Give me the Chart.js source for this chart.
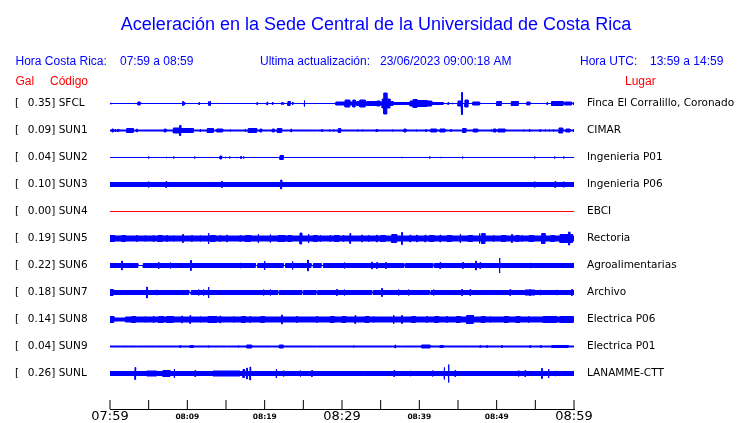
<!DOCTYPE html>
<html><head><meta charset="utf-8">
<script src="https://cdn.jsdelivr.net/npm/chart.js@4/dist/chart.umd.min.js"></script>
<style>html,body{margin:0;padding:0;background:#fff;overflow:hidden;}canvas{display:block;}</style>
</head><body>
<canvas id="c" width="740" height="423"></canvas>
<script>
// ---------- data ----------
const codes = ["SFCL","SUN1","SUN2","SUN3","SUN4","SUN5","SUN6","SUN7","SUN8","SUN9","SUNL"];
const galValues = [0.35,0.09,0.04,0.10,0.00,0.19,0.22,0.18,0.14,0.04,0.26];
const places = ["Finca El Corralillo, Coronado","CIMAR","Ingenieria P01","Ingenieria P06","EBCI","Rectoria","Agroalimentarias","Archivo","Electrica P06","Electrica P01","LANAMME-CTT"];
const timeTickLabels = ["07:59","","08:09","","08:19","","08:29","","08:39","","08:49","","08:59"];
const titleText = "Aceleración en la Sede Central de la Universidad de Costa Rica";
const horaCR = "07:59 a 08:59";
const horaUTC = "13:59 a 14:59";
const lastUpdate = "23/06/2023 09:00:18 AM";
// resting half-amplitude of each trace (display units)
const baseAmplitude = [0.5,1,0.5,2.5,0.5,3,2.5,2.5,3,1,2.5];
// events: [minute, amp] = short spike ; [fromMinute, toMinute, amp] = sustained motion
const evSFCL = [[0.1,1],[3.6,3.9,2],[9.4,2.5],[9.6,2],[11.5,1.5],[12.7,2.5],[12.9,2.5],[19.0,1.5],[20.3,2],[21.0,1.5],[22.2,1.5],[22.4,1.5],[23.0,23.3,2.5],[23.6,1.5],[25.1,3.5],
 [29.2,30.4,2],[30.4,31.0,4],[31.0,31.4,2],[31.4,31.7,4],[31.7,31.9,1.5],[31.9,32.3,2.5],[32.3,33.0,4],[33.0,33.2,2],[33.2,34.5,2.5],[34.5,34.9,3],[34.9,35.2,2],[35.2,35.4,5],[35.4,35.8,11],[35.8,36.2,5],[36.2,36.6,2.5],[36.6,38.8,1.5],[38.8,39.2,3],[39.2,39.7,4.5],[39.7,41.0,3.5],[41.0,41.6,3],[41.6,43.1,1.5],
 [43.7,1.5],[44.3,1],[45.0,45.4,3],[45.5,11.5],[45.9,46.3,4],[46.9,47.8,2],[50.0,50.6,2.5],[51.1,1],[51.9,52.8,2.5],[53.9,54.3,2],[56.5,1.5],[57.1,58.6,2.5],[58.8,59.7,2],[59.9,2]];
const evSUN1 = [[0.26,0.43,2],[0.65,2],[0.94,1.16,1.5],[2.16,3.01,2.5],[3.45,2],[4.31,1],[4.95,1],[5.6,1],[7.02,7.24,2],[8.19,9.0,3],[9.0,9.15,5.5],[9.15,10.77,2.5],[11.64,2],[12.58,13.36,2.5],[13.8,14.57,2],[15.52,1.5],[17.46,2],[17.88,18.97,2.5],[19.4,19.62,2],[20.47,1],[20.99,21.25,2],[21.63,22.2,2.5],[23.4,2],[26.73,1],[27.37,1.5],[27.8,1],[28.36,1.5],[28.87,1.5],[29.52,29.83,2.5],[31.98,1.5],[32.62,1.5],[33.53,1],[33.75,1],[34.4,34.62,1.5],[36.5,1.5],[38.02,38.28,2],[39.57,1.5],[40.82,1.5],[41.47,42.24,2],[42.67,43.32,2],[44.06,1.5],[44.48,1],[45.6,46.03,2.5],[46.98,47.55,2],[49.27,1.5],[49.57,49.91,2],[50.17,51.08,2],[53.44,1.5],[54.22,2],[55.6,1.5],[56.25,1.5],[56.77,1.5],[57.32,1.5],[58.06,58.54,3],[58.96,59.48,2],[59.9,2]];
const evSUN2 = [[4.95,1.5],[7.24,1],[7.54,1],[8.19,1.5],[10.9,1.5],[14.22,14.44,2],[14.87,1],[15.43,1.5],[16.38,1],[16.9,1.5],[17.24,1.5],[17.88,1],[21.98,22.41,2.5],[37.72,1],[41.29,1.5],[42.76,1],[45.55,1.5],[54.87,1.5],[55.51,1],[57.45,1.5],[58.62,1.5]];
const evSUN3 = [[4.95,3.5],[7.24,3.5],[13.49,3],[14.44,3.5],[22.07,22.2,5],[23.83,3],[32.11,3],[34.82,3],[54.87,3.5],[57.54,3.5],[57.97,3],[58.62,3.5],[59.39,3]];
const evSUN4 = [];
const evSUN5 = [[0,0.6,3.5],[1.5,2.0,3.5],[3.45,3.5],[4.53,3.5],[5.6,4],[6.2,6.8,3.5],[7.33,3.5],[8.19,3.5],[9.4,4.5],[10.56,3.5],[11.64,3.5],[12.71,6],[13.0,13.6,3.5],[14.22,3.5],[15.09,4],[16.81,3.5],[17.5,18.2,3.5],[19.14,5],[20.69,4.5],[21.72,22.63,3.5],[23.0,23.5,3.5],[24.57,24.79,6],[25.64,5],[26.3,26.8,3.5],[27.16,4],[28.45,4],[29.0,29.6,3.5],[30.17,4],[31.03,5.5],[32.55,4],[33.4,4],[34.49,4],[35.0,35.6,3.5],[36.43,37.07,4.5],[37.72,6.5],[38.79,4],[39.66,4],[40.73,4],[41.3,41.9,3.5],[42.67,4],[43.6,44.2,3.5],[45.26,5],[46.3,46.9,3.5],[47.75,5.5],[48.06,48.49,5.5],[49.57,4],[50.6,51.2,3.5],[51.94,4.5],[52.5,52.9,3.5],[53.24,3.5],[54.2,54.8,3.5],[55.82,56.25,5.5],[57.0,57.5,3.5],[58.19,59.3,4.5],[59.3,59.45,7],[59.45,59.8,4.5]];
const evSUN6 = [[1.51,5],[3.6,4.3,0.5],[6.25,4],[7.76,3.5],[10.43,5.5],[16.81,3],[18.8,19.1,0.5],[19.95,5],[22.4,22.7,0.5],[23.57,4.5],[25.56,6],[26.0,26.3,0.5],[27.3,27.6,0.5],[30.26,3.5],[33.4,3],[33.84,4],[34.49,3.5],[35.65,3.5],[38.0,38.2,0.5],[41.75,41.95,0.5],[42.67,3.5],[45.6,3.5],[47.29,5],[47.84,3.5],[50.34,8],[54.31,3],[56.68,3],[57.97,3]];
const evSUN7 = [[0,0.4,3.5],[4.75,6],[6.03,3],[10.2,10.5,0.5],[11.42,3.5],[12.06,3.5],[12.71,6],[19.82,3.5],[20.69,3.5],[21.7,21.9,0.5],[24.8,25.0,0.5],[26.65,26.85,0.5],[29.31,3.5],[30.26,3.5],[33.85,34.05,0.5],[35.13,4.5],[37.28,3.5],[38.57,3.5],[40.09,3],[41.3,41.5,0.5],[41.81,3.5],[45.48,3.5],[46.55,3.5],[49.14,3],[51.72,3.5],[53.66,54.2,3],[54.31,3.5],[54.45,54.95,3],[55.6,3],[57.76,3],[59.7,3.5]];
const evSUN8 = [[0,0.5,3.5],[0.5,2.0,2],[2.8,3.3,3.5],[4.53,3.5],[5.6,4],[6.3,6.9,3.5],[7.33,8.19,3.5],[9.27,4],[10.34,4.5],[11.64,3.5],[12.7,13.8,3.5],[14.22,4],[15.95,3.5],[17.0,17.5,3.5],[18.1,3.5],[19.5,20.0,3.5],[22.2,5],[24.14,3.5],[26.73,3.5],[28.5,29.0,3.5],[30.0,30.5,3.5],[31.68,4.5],[33.0,33.5,3.5],[34.05,3.5],[36.64,5],[37.72,4.5],[39.0,39.5,3.5],[40.95,3.5],[42.0,42.5,3.5],[43.54,3.5],[44.8,45.3,3.5],[46.12,46.98,4.5],[48.0,48.5,3.5],[49.14,3.5],[51.0,51.5,3.5],[52.5,53.0,3.5],[54.09,4],[56.0,57.76,3.5],[58.19,59.87,3.5]];
const evSUN9 = [[1.29,1],[2.37,1],[3.45,1],[4.75,6.04,1],[6.47,1],[7.76,1],[9.05,1.5],[10.34,10.77,1.5],[11.64,1],[12.71,1.5],[14.22,1],[15.09,1],[16.59,1.5],[17.68,18.32,2],[20.91,1],[21.89,22.41,2],[26.73,1],[27.8,1],[31.46,1.5],[32.97,1],[36.85,2],[37.72,1],[40.3,41.38,2],[42.67,43.1,1.5],[44.39,1],[46.55,1],[47.84,1.5],[48.71,1.5],[50.65,1.5],[51.5,1],[53.02,1],[54.31,1.5],[55.69,1.5],[57.11,59.26,1.5]];
const evSUNL = [[3.23,6.5],[4.75,6.04,3],[6.85,7.76,3.5],[8.28,5],[10.99,3.5],[13.32,16.81,3],[17.2,17.4,4.5],[17.68,6],[18.1,7],[21.47,5],[22.41,3.5],[24.57,3.5],[26.08,3.5],[32.76,3],[36.72,3.5],[38.79,3],[41.68,3.5],[43.19,6.5],[43.75,9.5],[44.61,3.5],[52.8,3.5],[53.66,3.5],[55.82,5.5],[56.68,5],[57.54,3],[58.19,3]];
const traceEvents = [evSFCL,evSUN1,evSUN2,evSUN3,evSUN4,evSUN5,evSUN6,evSUN7,evSUN8,evSUN9,evSUNL];

// ---------- layout / style constants ----------
const ROW = 27;            // spacing between traces (y units = px)
const SPAN_MIN = 60;       // minutes shown
const SPIKE_W = 0.08;      // width of a short spike (minutes)
const STROKE = 1;          // outline width of traces
const BLUE = '#0000ff', RED = '#ff0000';

function envelope(base, events) {
  const ev = events.map(e => e.length === 2 ? [e[0], e[0] + SPIKE_W, e[1]] : e)
                   .sort((a, b) => a[0] - b[0]);
  const pts = [[0, base]];
  for (const [t0, t1, a] of ev) pts.push([t0, base], [t0, a], [t1, a], [t1, base]);
  pts.push([SPAN_MIN, base]);
  // amplitudes are half the visible height; the outline adds STROKE/2 on each side
  return pts.map(([t, a]) => [t, Math.max(0, a - STROKE / 2)]);
}

const datasets = [];
codes.forEach((code, i) => {
  const env = envelope(baseAmplitude[i], traceEvents[i]);
  const col = galValues[i] === 0 ? RED : BLUE;
  const common = {borderColor: col, backgroundColor: col, borderWidth: STROKE, pointRadius: 0,
                  tension: 0, yAxisID: 'y', xAxisID: 'x', borderJoinStyle: 'miter'};
  datasets.push(Object.assign({label: code + ' +', data: env.map(([t, a]) => ({x: t, y: i * ROW - a})), fill: false}, common));
  datasets.push(Object.assign({label: code + ' -', data: env.map(([t, a]) => ({x: t, y: i * ROW + a})), fill: '-1'}, common));
});
// axis tick marks (pointing up into the plot)
const yTop = -ROW / 2, yBottom = (codes.length - 1) * ROW + 35.5;
datasets.push({label: 'ticks', data: timeTickLabels.map((_, k) => ({x: k * 5, y: yBottom - 4.5})),
  showLine: false, pointStyle: 'line', pointRotation: 90, pointRadius: 4.5, pointHoverRadius: 4.5,
  pointBorderColor: '#000', pointBorderWidth: 1, borderColor: '#000', clip: false, yAxisID: 'y', xAxisID: 'x'});

const headerPlugin = {
  id: 'header',
  afterDraw(chart) {
    const c = chart.ctx;
    c.save();
    c.textBaseline = 'alphabetic';
    c.fillStyle = BLUE;
    c.textAlign = 'center';
    c.font = '18px "Liberation Sans", Arial, sans-serif';
    c.fillText(titleText, 376, 30);
    c.textAlign = 'left';
    c.font = '12px "Liberation Sans", Arial, sans-serif';
    c.fillText('Hora Costa Rica:', 15.5, 65);
    c.fillText(horaCR, 120, 65);
    c.fillText('Ultima actualización:', 260, 65);
    c.fillText(lastUpdate, 380, 65);
    c.fillText('Hora UTC:', 580, 65);
    c.fillText(horaUTC, 650, 65);
    c.fillStyle = RED;
    c.fillText('Gal', 15.5, 85);
    c.fillText('Código', 50, 85);
    c.fillText('Lugar', 625, 85);
    c.restore();
  }
};

new Chart(document.getElementById('c'), {
  type: 'line',
  data: {datasets},
  options: {
    responsive: false, animation: false, devicePixelRatio: 1, events: [],
    layout: {padding: {top: 90, left: 15, right: 0, bottom: 0}},
    plugins: {legend: {display: false}, tooltip: {enabled: false}, title: {display: false}},
    scales: {
      x: {
        type: 'linear', min: 0, max: SPAN_MIN, position: 'bottom',
        afterBuildTicks: s => { s.ticks = timeTickLabels.map((_, k) => ({value: k * 5})); },
        afterFit: s => { s.height = 14; },
        grid: {display: false, drawTicks: false},
        border: {display: true, color: '#000', width: 1},
        ticks: {
          autoSkip: false, maxRotation: 0, minRotation: 0, padding: 0, color: '#000',
          callback: (v, k) => timeTickLabels[k],
          font: ctx => (ctx.index % 6 === 0)
            ? {family: 'DejaVu Sans', size: 13, lineHeight: 1.2}
            : {family: 'DejaVu Sans', size: 7.5, weight: 'bold', lineHeight: 15.6 / 7.5}
        }
      },
      y: {
        type: 'linear', reverse: true, min: yTop, max: yBottom, position: 'left',
        afterBuildTicks: s => { s.ticks = codes.map((_, k) => ({value: k * ROW})); },
        afterFit: s => { s.width = 95; },
        grid: {display: false, drawTicks: false}, border: {display: false},
        ticks: {crossAlign: 'far', padding: 0, color: '#000', autoSkip: false,
          font: {family: 'DejaVu Sans', size: 10.5},
          callback: (v, k) => '[  \u2009' + galValues[k].toFixed(2) + '] ' + codes[k]}
      },
      y2: {
        type: 'linear', reverse: true, min: yTop, max: yBottom, position: 'right',
        afterBuildTicks: s => { s.ticks = places.map((_, k) => ({value: k * ROW})); },
        afterFit: s => { s.width = 166; },
        grid: {display: false, drawTicks: true, tickLength: 13}, border: {display: false},
        ticks: {padding: 0, color: '#000', autoSkip: false,
          font: {family: 'DejaVu Sans', size: 10.5},
          callback: (v, k) => places[k]}
      }
    }
  },
  plugins: [headerPlugin]
});
</script>
</body></html>
